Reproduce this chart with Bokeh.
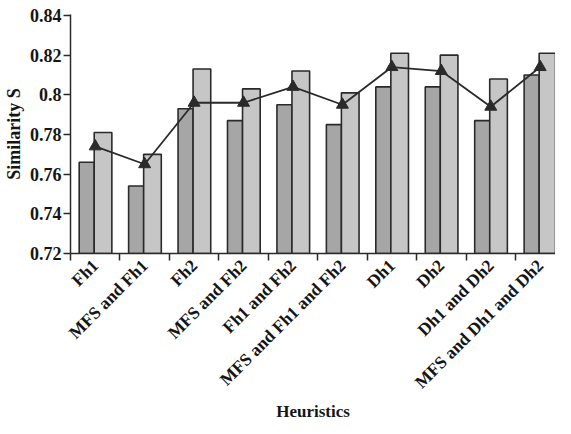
import math
from bokeh.plotting import figure
from bokeh.models import FixedTicker, Range1d, ColumnDataSource
from bokeh.embed import file_html
from bokeh.resources import INLINE

categories = ["Fh1", "MFS and Fh1", "Fh2", "MFS and Fh2", "Fh1 and Fh2",
              "MFS and Fh1 and Fh2", "Dh1", "Dh2", "Dh1 and Dh2",
              "MFS and Dh1 and Dh2"]
series_dark = [0.766, 0.754, 0.793, 0.787, 0.795, 0.785, 0.804, 0.804, 0.787, 0.810]
series_light = [0.781, 0.770, 0.813, 0.803, 0.812, 0.801, 0.821, 0.820, 0.808, 0.821]
series_line = [0.774, 0.765, 0.796, 0.796, 0.804, 0.795, 0.814, 0.812, 0.794, 0.814]
y_ticks = [0.72, 0.74, 0.76, 0.78, 0.80, 0.82, 0.84]
y_tick_labels = ["0.72", "0.74", "0.76", "0.78", "0.8", "0.82", "0.84"]
x_label = "Heuristics"
y_label = "Similarity S"

FONT = "Liberation Serif"
INK = "#2a2a2a"
TXT = "#151515"

xs = list(range(len(categories)))
src = ColumnDataSource(dict(
    x_dark=[x - 0.172 for x in xs],
    x_light=[x + 0.158 for x in xs],
    x=xs,
    dark=series_dark,
    light=series_light,
    line=series_line,
))

p = figure(width=555, height=424, output_backend="svg", toolbar_location=None,
           x_range=Range1d(-0.5, 9.31), y_range=Range1d(0.72, 0.8405),
           min_border_left=70, min_border_top=14, min_border_right=0,
           min_border_bottom=10)
p.outline_line_color = None
p.xgrid.visible = False
p.ygrid.visible = False
p.background_fill_color = "white"
p.border_fill_color = "white"

p.vbar(x="x_dark", top="dark", bottom=y_ticks[0], width=0.305, source=src,
       fill_color="#a6a6a6", line_color=INK, line_width=1.6)
p.vbar(x="x_light", top="light", bottom=y_ticks[0], width=0.357, source=src,
       fill_color="#c6c6c6", line_color=INK, line_width=1.6)
p.line(x="x", y="line", source=src, line_color=INK, line_width=1.8)
p.scatter(x="x", y="line", source=src, marker="triangle", size=12,
          fill_color=INK, line_color=INK)

# x axis: labels at category centres, ticks at category boundaries
xa = p.xaxis[0]
xa.ticker = FixedTicker(ticks=xs, minor_ticks=[x - 0.5 for x in range(len(categories) + 1)])
xa.major_label_overrides = {x: c for x, c in zip(xs, categories)}
xa.major_label_orientation = math.pi / 4
xa.major_tick_out = 0
xa.major_tick_in = 0
xa.minor_tick_out = 7
xa.minor_tick_in = 0
xa.minor_tick_line_color = INK
xa.minor_tick_line_width = 1.5
xa.axis_line_color = INK
xa.axis_line_width = 1.5
xa.major_label_text_font = FONT
xa.major_label_text_font_style = "bold"
xa.major_label_text_font_size = "17.5px"
xa.major_label_text_color = TXT
xa.major_label_standoff = 2
xa.axis_label = x_label
xa.axis_label_text_font = FONT
xa.axis_label_text_font_style = "bold"
xa.axis_label_text_font_size = "17px"
xa.axis_label_text_color = TXT
xa.axis_label_standoff = 0

ya = p.yaxis[0]
ya.ticker = FixedTicker(ticks=y_ticks, minor_ticks=[])
ya.major_label_overrides = {t: l for t, l in zip(y_ticks, y_tick_labels)}
ya.major_tick_out = 7
ya.major_tick_in = 0
ya.major_tick_line_color = INK
ya.major_tick_line_width = 1.5
ya.axis_line_color = INK
ya.axis_line_width = 1.5
ya.major_label_text_font = FONT
ya.major_label_text_font_style = "bold"
ya.major_label_text_font_size = "18px"
ya.major_label_text_color = TXT
ya.major_label_standoff = 2
ya.axis_label = y_label
ya.axis_label_text_font = FONT
ya.axis_label_text_font_style = "bold"
ya.axis_label_text_font_size = "18px"
ya.axis_label_text_color = TXT
ya.axis_label_standoff = 3

open("out.html", "w").write(file_html(p, INLINE))
